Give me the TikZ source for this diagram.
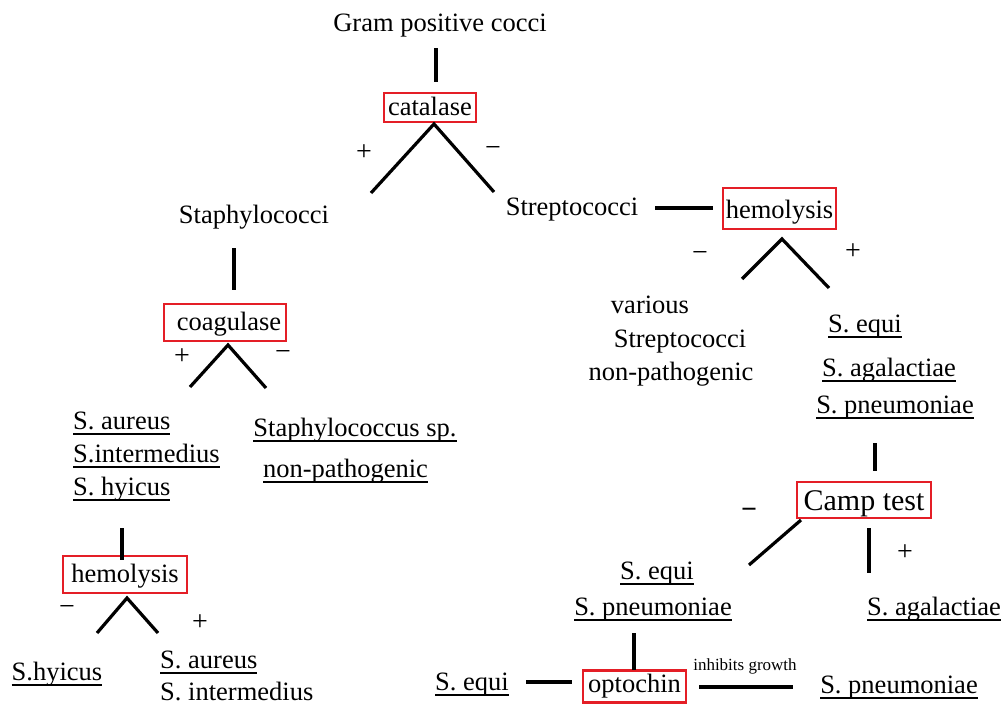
\documentclass[tikz,border=0pt]{standalone}
\usepackage{fontspec}
\setmainfont{Liberation Serif}
\definecolor{boxred}{RGB}{228,30,38}
\newcommand\uln[1]{{\setbox0=\hbox{#1}\rlap{\rule[-6pt]{\wd0}{1.6pt}}\box0}}
\tikzset{
  txt/.style={inner sep=0pt, anchor=base, font=\fontsize{26.5}{30}\selectfont},
  testbox/.style={draw=boxred, line width=2.6pt, inner sep=0pt, anchor=center,
    font=\fontsize{26.5}{30}\selectfont, text height=18.5pt, text depth=3.5pt},
  sign/.style={inner sep=0pt, anchor=center, font=\fontsize{28}{30}\selectfont},
  ln/.style={line width=3.2pt},
}
\begin{document}
\begin{tikzpicture}[x=1pt,y=-1pt]
\useasboundingbox (0,0) rectangle (1002,704);
% ---------- top ----------
\node[txt] (gpc) at (440,31) {Gram positive cocci};
\node[testbox, minimum width=92pt, minimum height=29pt] (catalase) at (430,107.5) {catalase};
\node[sign] (catp) at (364,153) {+};
\node[sign] (catm) at (493,152) {−};
\node[txt] (staph) at (254,223) {Staphylococci};
\node[txt] (strep) at (572,215) {Streptococci};
\node[testbox, minimum width=113pt, minimum height=41pt, text height=20pt, text depth=1pt] (hemR) at (779.5,208.5) {hemolysis};
\node[sign] (hemRm) at (700,257) {−};
\node[sign] (hemRp) at (853,252) {+};
% ---------- right, hemolysis ----------
\node[txt] (var1) at (650,313) {various};
\node[txt] (var2) at (680,347) {Streptococci};
\node[txt] (var3) at (671,380) {non-pathogenic};
\node[txt] (requi) at (865,332) {\uln{S. equi}};
\node[txt] (ragal) at (889,376) {\uln{S. agalactiae}};
\node[txt] (rpneu) at (895,413) {\uln{S. pneumoniae}};
% ---------- Camp test ----------
\node[testbox, minimum width=134pt, minimum height=36pt, font=\fontsize{30}{34}\selectfont, text height=24pt, text depth=4pt] (camp) at (864,500) {Camp test};
\node[sign, font=\fontsize{28}{30}\selectfont\bfseries] (campm) at (749,513) {−};
\node[sign] (campp) at (905,553) {+};
\node[txt] (mequi) at (657,579) {\uln{S. equi}};
\node[txt] (mpneu) at (653,615) {\uln{S. pneumoniae}};
\node[txt] (cagal) at (934,615) {\uln{S. agalactiae}};
% ---------- optochin ----------
\node[testbox, minimum width=103pt, minimum height=32pt, text height=18pt, text depth=6pt] (opto) at (634.5,686.5) {optochin};
\node[txt] (oequi) at (472,690) {\uln{S. equi}};
\node[txt] (opneu) at (899,693) {\uln{S. pneumoniae}};
\node[txt, font=\fontsize{17}{19}\selectfont] (inhib) at (745,670) {inhibits growth};
% ---------- left ----------
\node[testbox, minimum width=122pt, minimum height=37pt] (coag) at (225,322.5) {\hspace{8pt}coagulase};
\node[sign] (coagp) at (182,357) {+};
\node[sign] (coagm) at (283,355) {−};
\node[txt, anchor=base west] (laur) at (73,429) {\uln{S. aureus}};
\node[txt, anchor=base west] (lint) at (73,462) {\uln{S.intermedius}};
\node[txt, anchor=base west] (lhyi) at (73,495) {\uln{S. hyicus}};
\node[txt] (ssp) at (355,436) {\uln{Staphylococcus sp.}};
\node[txt] (snp) at (345.5,477) {\uln{non-pathogenic}};
\node[testbox, minimum width=124pt, minimum height=37pt] (hemL) at (125,574.5) {hemolysis};
\node[sign] (hemLm) at (67,610) {−};
\node[sign] (hemLp) at (200,623) {+};
\node[txt] (bhyi) at (57,680) {\uln{S.hyicus}};
\node[txt, anchor=base west] (baur) at (160,668) {\uln{S. aureus}};
\node[txt, anchor=base west] (bint) at (160,700) {S. intermedius};
% ---------- connector end points ----------
\coordinate (a1) at (436,48);  \coordinate (a2) at (436,82);
\coordinate (b1) at (371,193); \coordinate (b2) at (434,124); \coordinate (b3) at (494,192);
\coordinate (c1) at (234,248); \coordinate (c2) at (234,290);
\coordinate (d1) at (655,208); \coordinate (d2) at (713,208);
\coordinate (e1) at (742,279); \coordinate (e2) at (782,239); \coordinate (e3) at (829,288);
\coordinate (f1) at (190,387); \coordinate (f2) at (228,345); \coordinate (f3) at (266,388);
\coordinate (g1) at (122,528); \coordinate (g2) at (122,560);
\coordinate (h1) at (97,633);  \coordinate (h2) at (127,598); \coordinate (h3) at (158,633);
\coordinate (i1) at (875,443); \coordinate (i2) at (875,471);
\coordinate (j1) at (801,520); \coordinate (j2) at (749,565);
\coordinate (k1) at (869,528); \coordinate (k2) at (869,573);
\coordinate (l1) at (634,633); \coordinate (l2) at (634,670);
\coordinate (m1) at (526,682); \coordinate (m2) at (572,682);
\coordinate (n1) at (699,687); \coordinate (n2) at (793,687);
% ---------- connectors ----------
\draw[ln] (a1) -- (a2);
\draw[ln] (b1) -- (b2) -- (b3);
\draw[ln] (c1) -- (c2);
\draw[ln] (d1) -- (d2);
\draw[ln] (e1) -- (e2) -- (e3);
\draw[ln] (f1) -- (f2) -- (f3);
\draw[ln] (g1) -- (g2);
\draw[ln] (h1) -- (h2) -- (h3);
\draw[ln] (i1) -- (i2);
\draw[ln] (j1) -- (j2);
\draw[ln] (k1) -- (k2);
\draw[ln] (l1) -- (l2);
\draw[ln] (m1) -- (m2);
\draw[ln] (n1) -- (n2);
\end{tikzpicture}
\end{document}
